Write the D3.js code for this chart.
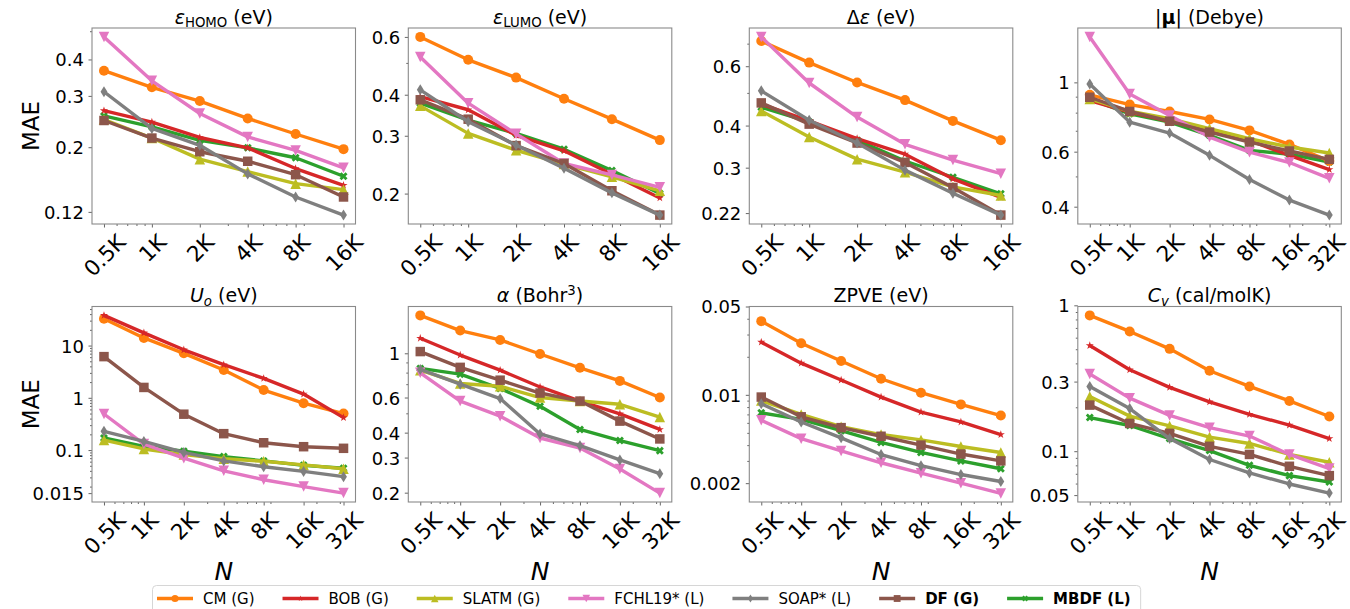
<!DOCTYPE html>
<html>
<head>
<meta charset="utf-8">
<script src="https://cdn.jsdelivr.net/npm/d3@7"></script>
<style>
  html, body { margin: 0; padding: 0; background: #fff; }
  svg text { font-family: "DejaVu Sans", sans-serif; fill: #000; }
</style>
</head>
<body>
<svg id="fig" width="1350" height="609"></svg>
<script>
// ---- data -------------------------------------------------------------
const trainSizes = [500, 1000, 2000, 4000, 8000, 16000, 32000];
const sizeLabels = ["0.5K", "1K", "2K", "4K", "8K", "16K", "32K"];
const methods = ["CM (G)", "BOB (G)", "SLATM (G)", "FCHL19* (L)", "SOAP* (L)", "DF (G)", "MBDF (L)"];

// MAE per method (rows follow `methods`), columns follow trainSizes
const maeHOMO = [
  [0.366, 0.321, 0.288, 0.251, 0.222, 0.197],
  [0.267, 0.244, 0.216, 0.199, 0.169, 0.148],
  [0.249, 0.215, 0.182, 0.165, 0.150, 0.143],
  [0.478, 0.338, 0.261, 0.217, 0.195, 0.170],
  [0.310, 0.232, 0.203, 0.162, 0.135, 0.117],
  [0.247, 0.215, 0.193, 0.179, 0.161, 0.135],
  [0.256, 0.235, 0.211, 0.199, 0.184, 0.159]
];
const maeLUMO = [
  [0.600, 0.511, 0.451, 0.389, 0.337, 0.291],
  [0.395, 0.360, 0.301, 0.270, 0.229, 0.194],
  [0.370, 0.305, 0.271, 0.246, 0.225, 0.204],
  [0.521, 0.377, 0.304, 0.247, 0.228, 0.209],
  [0.414, 0.331, 0.281, 0.239, 0.201, 0.172],
  [0.386, 0.337, 0.280, 0.247, 0.204, 0.172],
  [0.377, 0.335, 0.305, 0.273, 0.235, 0.200]
];
const maeGap = [
  [0.713, 0.615, 0.537, 0.476, 0.413, 0.362],
  [0.463, 0.413, 0.366, 0.329, 0.278, 0.245],
  [0.442, 0.370, 0.318, 0.291, 0.263, 0.248],
  [0.733, 0.535, 0.424, 0.352, 0.316, 0.288],
  [0.507, 0.415, 0.355, 0.295, 0.252, 0.217],
  [0.467, 0.404, 0.355, 0.311, 0.262, 0.217],
  [0.453, 0.410, 0.362, 0.314, 0.281, 0.251]
];
const maeDipole = [
  [0.912, 0.849, 0.807, 0.761, 0.702, 0.633, 0.560],
  [0.874, 0.803, 0.751, 0.702, 0.652, 0.584, 0.526],
  [0.885, 0.808, 0.765, 0.711, 0.660, 0.621, 0.594],
  [1.398, 0.918, 0.783, 0.668, 0.598, 0.554, 0.493],
  [0.988, 0.746, 0.688, 0.584, 0.489, 0.420, 0.376],
  [0.896, 0.807, 0.751, 0.693, 0.644, 0.603, 0.567],
  [0.885, 0.793, 0.746, 0.677, 0.606, 0.589, 0.556]
];
const maeU0 = [
  [32.6, 14.0, 7.1, 3.4, 1.41, 0.79, 0.50],
  [37.8, 17.5, 8.3, 4.3, 2.35, 1.18, 0.418],
  [0.155, 0.105, 0.082, 0.068, 0.061, 0.052, 0.044],
  [0.49, 0.13, 0.07, 0.04, 0.027, 0.020, 0.015],
  [0.228, 0.146, 0.090, 0.062, 0.048, 0.039, 0.031],
  [6.14, 1.58, 0.486, 0.206, 0.138, 0.116, 0.108],
  [0.170, 0.118, 0.095, 0.075, 0.062, 0.051, 0.045]
];
const maeAlpha = [
  [1.549, 1.300, 1.167, 0.992, 0.846, 0.727, 0.600],
  [1.190, 0.980, 0.823, 0.678, 0.576, 0.497, 0.415],
  [0.823, 0.706, 0.684, 0.600, 0.576, 0.555, 0.479],
  [0.798, 0.576, 0.484, 0.376, 0.335, 0.263, 0.199],
  [0.830, 0.700, 0.593, 0.394, 0.344, 0.292, 0.249],
  [1.020, 0.850, 0.733, 0.632, 0.576, 0.457, 0.372],
  [0.840, 0.786, 0.666, 0.542, 0.415, 0.365, 0.325]
];
const maeZPVE = [
  [0.0383, 0.0256, 0.0185, 0.0134, 0.0104, 0.0084, 0.00686],
  [0.0261, 0.0178, 0.0131, 0.0096, 0.0073, 0.0061, 0.00485],
  [0.0090, 0.0070, 0.0056, 0.00485, 0.0044, 0.0039, 0.0035],
  [0.0063, 0.0045, 0.0036, 0.0029, 0.0024, 0.0020, 0.00166],
  [0.0085, 0.0061, 0.00457, 0.00337, 0.00275, 0.00234, 0.00206],
  [0.0096, 0.0067, 0.0055, 0.0047, 0.0040, 0.0034, 0.0030],
  [0.0072, 0.0064, 0.0052, 0.0042, 0.0035, 0.0030, 0.0026]
];
const maeCv = [
  [0.853, 0.662, 0.503, 0.356, 0.278, 0.221, 0.173],
  [0.530, 0.362, 0.274, 0.218, 0.179, 0.151, 0.122],
  [0.237, 0.174, 0.149, 0.125, 0.113, 0.095, 0.084],
  [0.338, 0.231, 0.176, 0.145, 0.127, 0.095, 0.076],
  [0.278, 0.196, 0.122, 0.0877, 0.071, 0.0596, 0.0516],
  [0.207, 0.155, 0.1325, 0.108, 0.095, 0.0788, 0.068],
  [0.170, 0.150, 0.122, 0.101, 0.080, 0.068, 0.0615]
];

// y tick values per property
const ticksHOMO = [0.12, 0.2, 0.3, 0.4];
const ticksLUMO = [0.2, 0.3, 0.4, 0.6];
const ticksGap = [0.22, 0.3, 0.4, 0.6];
const ticksDipole = [0.4, 0.6, 1];
const ticksU0 = [0.015, 0.1, 1, 10];
const ticksAlpha = [0.2, 0.3, 0.4, 0.6, 1];
const ticksZPVE = [0.002, 0.01, 0.05];
const ticksCv = [0.05, 0.1, 0.3, 1];

// panel titles as [text, style] runs
const titleHOMO = [["ε", "i"], ["HOMO", "sub"], [" (eV)", ""]];
const titleLUMO = [["ε", "i"], ["LUMO", "sub"], [" (eV)", ""]];
const titleGap = [["Δ", ""], ["ε", "i"], [" (eV)", ""]];
const titleDipole = [["|", ""], ["μ", "b"], ["|", ""], [" (Debye)", ""]];
const titleU0 = [["U", "i"], ["o", "isub"], [" (eV)", ""]];
const titleAlpha = [["α", "i"], [" (Bohr", ""], ["3", "sup"], [")", ""]];
const titleZPVE = [["ZPVE (eV)", ""]];
const titleCv = [["C", "i"], ["v", "isub"], [" (cal/molK)", ""]];

// ---- styling ----------------------------------------------------------
const colors = ["#ff7f0e", "#d62728", "#bcbd22", "#e377c2", "#7f7f7f", "#8c564b", "#2ca02c"];
const markerKinds = ["circle", "star", "triUp", "triDown", "thinDiamond", "square", "X"];
const markerSizes = [10, 8.5, 10.5, 10.5, 11, 9.5, 8.5];
const boldLegend = [false, false, false, false, false, true, true];
const drawOrder = [6, 0, 1, 2, 3, 5, 4];
const LINE_W = 3.4;
const SPINE = "#8a8a8a";
const TICK = "#555";
const XTICK_FS = 21.5;
const FIG_W = 1350;

const svg = d3.select("#fig");
const panelW = 263.5;
const colX = [92, 408.3, 749.3, 1077.8];
const rowY = [[28, 224], [306.5, 502]];

const panels = [
  { title: titleHOMO, vals: maeHOMO, yt: ticksHOMO, col: 0, row: 0 },
  { title: titleLUMO, vals: maeLUMO, yt: ticksLUMO, col: 1, row: 0 },
  { title: titleGap, vals: maeGap, yt: ticksGap, col: 2, row: 0 },
  { title: titleDipole, vals: maeDipole, yt: ticksDipole, col: 3, row: 0 },
  { title: titleU0, vals: maeU0, yt: ticksU0, col: 0, row: 1 },
  { title: titleAlpha, vals: maeAlpha, yt: ticksAlpha, col: 1, row: 1 },
  { title: titleZPVE, vals: maeZPVE, yt: ticksZPVE, col: 2, row: 1, yMax: 0.05 },
  { title: titleCv, vals: maeCv, yt: ticksCv, col: 3, row: 1 }
];

function markerPath(kind, s) {
  const h = s / 2;
  switch (kind) {
    case "circle":
      return `M${h},0A${h},${h} 0 1,1 ${-h},0A${h},${h} 0 1,1 ${h},0Z`;
    case "square":
      return `M${-h},${-h}H${h}V${h}H${-h}Z`;
    case "triUp":
      return `M0,${-h}L${h},${h}L${-h},${h}Z`;
    case "triDown":
      return `M0,${h}L${h},${-h}L${-h},${-h}Z`;
    case "thinDiamond": {
      const w = h * 0.62;
      return `M0,${-h}L${w},0L0,${h}L${-w},0Z`;
    }
    case "star": {
      const pts = [];
      for (let k = 0; k < 10; k++) {
        const r = k % 2 === 0 ? h : h * 0.382;
        const a = -Math.PI / 2 + k * Math.PI / 5;
        pts.push([r * Math.cos(a), r * Math.sin(a)]);
      }
      return "M" + pts.map(p => p.join(",")).join("L") + "Z";
    }
    case "X": {
      const a = s / 6, b = h;
      const base = [[-a,-b],[a,-b],[a,-a],[b,-a],[b,a],[a,a],[a,b],[-a,b],[-a,a],[-b,a],[-b,-a],[-a,-a]];
      const c = Math.SQRT1_2;
      const pts = base.map(([px, py]) => [(px - py) * c, (px + py) * c]);
      return "M" + pts.map(p => p.join(",")).join("L") + "Z";
    }
  }
}

function minorTicks(domain, majors) {
  const [a, b] = domain;
  const out = [];
  for (let e = Math.floor(Math.log10(a)); e <= Math.ceil(Math.log10(b)); e++) {
    for (let k = 2; k <= 9; k++) {
      const v = k * Math.pow(10, e);
      if (v >= a && v <= b && !majors.some(m => Math.abs(m - v) / v < 1e-6)) out.push(v);
    }
  }
  return out;
}

function styleAxis(sel, fontSize) {
  sel.attr("font-family", "DejaVu Sans").attr("font-size", fontSize);
  sel.select(".domain").remove();
  sel.selectAll(".tick line").attr("stroke", TICK).attr("stroke-width", 0.9);
  sel.selectAll(".tick text").attr("fill", "#000");
}

function drawTitle(parent, runs, cx, baseline, fs) {
  const t = parent.append("text")
    .attr("x", cx).attr("y", baseline)
    .attr("text-anchor", "middle")
    .attr("font-size", fs);
  let shift = 0;
  runs.forEach(([txt, st]) => {
    const sp = t.append("tspan").text(txt);
    let target = 0;
    if (st === "i" || st === "isub") sp.attr("font-style", "italic");
    if (st === "b") sp.attr("font-weight", "bold");
    if (st === "sub" || st === "isub") { sp.attr("font-size", fs * 0.7); target = fs * 0.2; }
    if (st === "sup") { sp.attr("font-size", fs * 0.7); target = -fs * 0.36; }
    if (target !== shift) { sp.attr("dy", target - shift); shift = target; }
  });
}

function drawPanel(p) {
  const n = p.vals[0].length;
  const xs = trainSizes.slice(0, n);
  const left = colX[p.col], right = left + panelW;
  const [top, bottom] = rowY[p.row];

  const r = Math.pow(xs[n - 1] / xs[0], 0.05);
  const x = d3.scaleLog().domain([xs[0] / r, xs[n - 1] * r]).range([left, right]);

  const all = p.vals.flat();
  const lo = Math.log10(d3.min(all)), hi = Math.log10(d3.max(all));
  const pad = 0.05 * (hi - lo);
  const yMax = p.yMax !== undefined ? p.yMax : Math.pow(10, hi + pad);
  const y = d3.scaleLog().domain([Math.pow(10, lo - pad), yMax]).range([bottom, top]);

  const g = svg.append("g");

  // y axis: minor then major ticks
  g.append("g").attr("transform", `translate(${left},0)`)
    .call(d3.axisLeft(y).tickValues(minorTicks(y.domain(), p.yt)).tickFormat("").tickSize(2))
    .call(s => styleAxis(s, 18));
  g.append("g").attr("transform", `translate(${left},0)`)
    .call(d3.axisLeft(y).tickValues(p.yt).tickFormat(d => String(d)).tickSize(3.5).tickPadding(4.5))
    .call(s => styleAxis(s, 18))
    .call(s => s.selectAll(".tick text").attr("dy", "0.36em"));

  // x axis: minor then major ticks with rotated labels
  g.append("g").attr("transform", `translate(0,${bottom})`)
    .call(d3.axisBottom(x).tickValues(minorTicks(x.domain(), xs)).tickFormat("").tickSize(2))
    .call(s => styleAxis(s, XTICK_FS));
  const gx = g.append("g").attr("transform", `translate(0,${bottom})`)
    .call(d3.axisBottom(x).tickValues(xs).tickFormat((d, i) => sizeLabels[i]).tickSize(3.5))
    .call(s => styleAxis(s, XTICK_FS));
  gx.selectAll(".tick text").each(function (d) {
    const t = d3.select(this);
    const w = this.getComputedTextLength();
    const ext = (w + 0.73 * XTICK_FS) * Math.SQRT1_2;
    const cy = 8.5 + ext / 2;
    // keep the rotated label box inside the figure
    const half = (w + 1.17 * XTICK_FS) * Math.SQRT1_2 / 2;
    const over = x(d) + half - (FIG_W - 0.5);
    const dx = over > 0 ? -over : 0;
    t.attr("x", dx).attr("y", cy).attr("dy", "0.36em")
      .attr("text-anchor", "middle")
      .attr("transform", `rotate(-45,${dx},${cy})`);
  });

  // series
  const line = d3.line().x((d, i) => x(xs[i])).y(d => y(d));
  drawOrder.forEach(m => {
    const vals = p.vals[m];
    g.append("path").datum(vals)
      .attr("d", line)
      .attr("fill", "none")
      .attr("stroke", colors[m])
      .attr("stroke-width", LINE_W)
      .attr("stroke-linejoin", "round");
    g.append("g").selectAll("path").data(vals).join("path")
      .attr("transform", (d, i) => `translate(${x(xs[i])},${y(d)})`)
      .attr("d", markerPath(markerKinds[m], markerSizes[m]))
      .attr("fill", colors[m]);
  });

  // frame
  g.append("rect")
    .attr("x", left).attr("y", top)
    .attr("width", panelW).attr("height", bottom - top)
    .attr("fill", "none").attr("stroke", SPINE).attr("stroke-width", 1.1);

  drawTitle(g, p.title, (left + right) / 2, top - 4.5, 19);

  if (p.col === 0) {
    const cy = (top + bottom) / 2;
    g.append("text").text("MAE")
      .attr("x", 31).attr("y", cy).attr("dy", "0.36em")
      .attr("text-anchor", "middle").attr("font-size", 23)
      .attr("transform", `rotate(-90,31,${cy})`);
  }
  if (p.row === 1) {
    g.append("text").text("N")
      .attr("x", (left + right) / 2).attr("y", 580)
      .attr("text-anchor", "middle").attr("font-size", 25)
      .attr("font-style", "italic");
  }
}

panels.forEach(drawPanel);

// ---- legend -----------------------------------------------------------
const lg = svg.append("g");
const frame = lg.append("rect")
  .attr("x", 152.5).attr("y", 585.5).attr("height", 32).attr("rx", 4)
  .attr("fill", "#fff").attr("stroke", "#d6d6d6").attr("stroke-width", 1);
const legY = 598.5;
let cursor = 157;
methods.forEach((name, m) => {
  lg.append("line")
    .attr("x1", cursor).attr("x2", cursor + 36)
    .attr("y1", legY).attr("y2", legY)
    .attr("stroke", colors[m]).attr("stroke-width", LINE_W);
  lg.append("path")
    .attr("transform", `translate(${cursor + 18},${legY})`)
    .attr("d", markerPath(markerKinds[m], markerSizes[m] * 0.72))
    .attr("fill", colors[m]);
  const t = lg.append("text").text(name)
    .attr("x", cursor + 46).attr("y", legY).attr("dy", "0.36em")
    .attr("font-size", 15)
    .attr("font-weight", boldLegend[m] ? "bold" : "normal");
  const w = t.node().getComputedTextLength();
  cursor = cursor + 46 + w + 28;
});
frame.attr("width", cursor - 28 + 10 - 152.5);
</script>
</body>
</html>
